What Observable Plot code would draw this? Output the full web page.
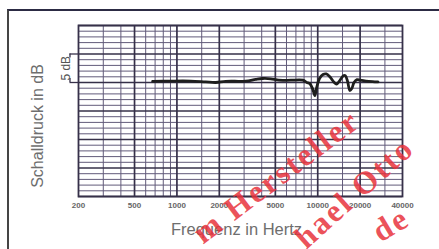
<!DOCTYPE html>
<html><head><meta charset="utf-8">
<script src="https://cdn.jsdelivr.net/npm/d3@7"></script>
<script src="https://cdn.jsdelivr.net/npm/@observablehq/plot@0.6"></script>
<style>
html,body{margin:0;padding:0;background:#fff;}
#wrap{position:relative;width:439px;height:249px;overflow:hidden;background:#fff;}
#box{position:absolute;left:7px;top:9px;width:440px;height:250px;border-top:2px solid #2c2b44;border-left:2px solid #454545;box-sizing:border-box;}
#chart{position:absolute;left:0;top:0;}
#wm{position:absolute;left:0;top:0;pointer-events:none;}
</style></head><body>
<div id="wrap"><div id="box"></div><div id="chart"></div>
<svg id="wm" width="439" height="249" font-family="Liberation Serif, DejaVu Serif, serif" font-weight="bold" fill="#e8323c" fill-opacity="0.85" font-size="32" letter-spacing="2.3">
  <text id="wm1" text-anchor="end"></text>
  <text id="wm2" text-anchor="end"></text>
  <text id="wm3" text-anchor="end"></text>
</svg>
</div>
<script>
// ---- data ----
const freq = [672, 900, 1250, 1600, 1890, 2220, 3080, 3630, 4070, 4640, 5290, 6440, 7840, 8370, 8790, 9230, 9540, 9800, 10300, 10900, 11500, 12200, 13000, 13600, 14300, 15200, 15700, 16300, 16900, 17500, 18100, 19000, 20000, 22000, 24500, 26800];
const level = [0.2, 0.25, 0.25, 0.1, 0.0, 0.2, 0.25, 0.55, 0.7, 0.65, 0.4, 0.4, 0.4, 0.0, -0.2, -1.2, -2.3, -1.0, 0.7, 1.4, 1.5, 1.0, 0.1, -0.3, 0.3, 1.2, 1.2, 0.2, -1.4, -1.0, 0.0, 0.5, 0.4, 0.25, 0.15, 0.1];
const tickLabels = [200, 500, 1000, 2000, 5000, 10000, 20000, 40000];
const gridFreqThin = [300, 400, 600, 700, 800, 900, 1500, 3000, 4000, 6000, 7000, 8000, 9000, 15000, 30000];
const gridFreqThick = [500, 1000, 2000, 5000, 10000, 20000];
const gridDbThin = [-19,-18,-17,-16,-14,-13,-12,-11,-9,-8,-7,-6,-4,-3,-2,-1,1,2,3,4,6,7,8,9];
const gridDbThick = [-20, -15, -10, -5, 0, 5, 10];
const bracketDb = [0, 5];
const xTitle = "Frequenz in Hertz";
const yTitle = "Schalldruck in dB";
const scaleLabel = "5 dB";
const watermarks = ["m Hersteller", "hael Otto", "de"];

const data = freq.map((f, i) => ({f, db: level[i]}));
const font = "Liberation Sans, Arial, sans-serif";

const chart = Plot.plot({
  width: 439, height: 249,
  marginLeft: 78, marginRight: 37, marginTop: 25, marginBottom: 53,
  style: {fontFamily: font, background: "transparent"},
  x: {type: "log", domain: [200, 40000], axis: null},
  y: {domain: [-20, 10], axis: null},
  marks: [
    Plot.ruleX(gridFreqThin, {stroke: "#625b7a", strokeWidth: 1}),
    Plot.ruleY(gridDbThin, {stroke: "#625b7a", strokeWidth: 1}),
    Plot.ruleX(gridFreqThick, {stroke: "#363049", strokeWidth: 1.7}),
    Plot.ruleY(gridDbThick, {stroke: "#363049", strokeWidth: 1.7}),
    Plot.frame({stroke: "#363049", strokeWidth: 1.8}),
    Plot.line(data, {x: "f", y: "db", stroke: "#1e1e1e", strokeWidth: 2.8, curve: "catmull-rom"}),
    // x tick labels
    Plot.text(tickLabels, {x: d => d, frameAnchor: "bottom", lineAnchor: "middle", dy: 9, fontSize: 8, fontWeight: "bold", fill: "#666", text: d => String(d), letterSpacing: 0.4}),
    // 5 dB scale bracket
    Plot.ruleY(bracketDb, {x1: 174, x2: 200, stroke: "#363049", strokeWidth: 1.3}),
    Plot.ruleX([174], {y1: 5, y2: 4.3, stroke: "#363049", strokeWidth: 1.3}),
    Plot.ruleX([174], {y1: 0, y2: 0.7, stroke: "#363049", strokeWidth: 1.3}),
    Plot.text([scaleLabel], {x: 164, y: 2.5, rotate: -90, fontSize: 12, fill: "#555", text: d => d}),
    Plot.text([yTitle], {frameAnchor: "left", textAnchor: "middle", dx: -41, dy: 15, rotate: -90, fontSize: 16, fill: "#6e6e6e", text: d => d}),
    Plot.text([xTitle], {frameAnchor: "bottom", dx: -4, dy: 38, fontSize: 16.5, fill: "#6e6e6e", text: d => d})
  ]
});
document.getElementById("chart").appendChild(chart);

// watermark overlay
const wmPos = [[362, 125, -37], [416, 151, -42], [412, 224, -31]];
watermarks.forEach((t, i) => {
  const el = document.getElementById("wm" + (i + 1));
  el.textContent = t;
  const [x, y, r] = wmPos[i];
  el.setAttribute("transform", `translate(${x},${y}) rotate(${r})`);
});
</script>
</body></html>
